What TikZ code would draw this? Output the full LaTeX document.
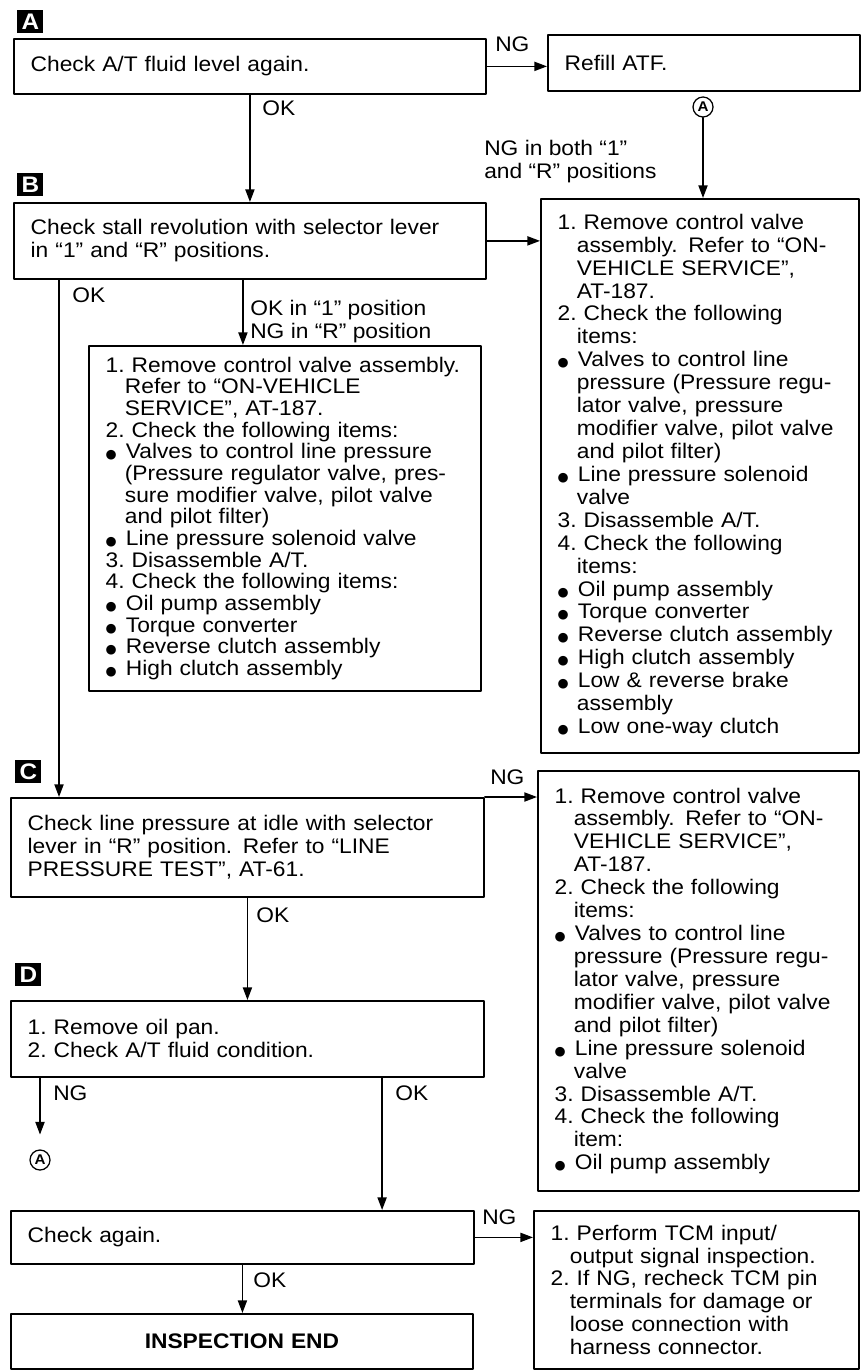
\documentclass[tikz,border=0pt]{standalone}
\usepackage{fontspec}
\setmainfont{Liberation Sans}[FakeStretch=1.08]
\newfontfamily\symfont{DejaVu Sans}
\usetikzlibrary{arrows.meta}

\newcommand{\boxfont}{\fontsize{15}{16.3}\selectfont}
\newcommand{\cont}{\\\hspace*{0.48cm}}
\newcommand{\blt}{{\symfont\fontsize{9}{0}\selectfont ●}\hspace{6.5pt}}

\begin{document}
\begin{tikzpicture}[x=0.025cm, y=-0.025cm, line cap=round, line join=round,
    box/.style={draw, line width=1.25pt, anchor=north west, align=left,
      inner xsep=0.42cm, inner ysep=0pt, font=\boxfont},
    tag/.style={fill=black, text=white, anchor=north west, inner sep=0pt,
      minimum width=0.65cm, minimum height=0.575cm,
      font=\bfseries\fontsize{16}{16}\selectfont},
    conn/.style={draw, circle, line width=0.9pt, inner sep=0pt,
      minimum size=0.5cm, font=\bfseries\fontsize{10}{10}\selectfont},
    lbl/.style={anchor=west, align=left, inner sep=0pt, font=\boxfont},
    arr/.style={-{Triangle[length=9pt,width=6.5pt]}, line width=1.1pt}]
  \useasboundingbox (0,0) rectangle (862,1372);

  % step A
  \node[tag] (tagA) at (17,10) {A};
  \node[box, text width=10.96cm, minimum height=1.375cm] (a1) at (13,38)
    {Check A/T fluid level again.};
  \node[box, text width=6.96cm, minimum height=1.4cm] (refill) at (547,34)
    {Refill ATF.};
  \node[conn] (ca1) at (703,107) {A};

  % step B
  \node[tag] (tagB) at (17,173) {B};
  \node[box, text width=10.96cm, minimum height=1.9cm] (b1) at (13,202)
    {Check stall revolution with selector lever\\in “1” and “R” positions.};
  \node[box, text width=7.11cm, minimum height=13.85cm] (r1) at (540,198)
    {1.~Remove control valve\cont assembly. Refer to “ON-\cont VEHICLE SERVICE”,\cont AT-187.\\
     2.~Check the following\cont items:\\
     \blt Valves to control line\cont pressure (Pressure regu-\cont lator valve, pressure\cont modifier valve, pilot valve\cont and pilot filter)\\
     \blt Line pressure solenoid\cont valve\\
     3.~Disassemble A/T.\\
     4.~Check the following\cont items:\\
     \blt Oil pump assembly\\
     \blt Torque converter\\
     \blt Reverse clutch assembly\\
     \blt High clutch assembly\\
     \blt Low \& reverse brake\cont assembly\\
     \blt Low one-way clutch};
  \node[box, text width=8.96cm, minimum height=8.625cm,
    font=\fontsize{15}{15.4}\selectfont] (b2) at (88,345)
    {1.~Remove control valve assembly.\cont Refer to “ON-VEHICLE\cont SERVICE”, AT-187.\\
     2.~Check the following items:\\
     \blt Valves to control line pressure\cont (Pressure regulator valve, pres-\cont sure modifier valve, pilot valve\cont and pilot filter)\\
     \blt Line pressure solenoid valve\\
     3.~Disassemble A/T.\\
     4.~Check the following items:\\
     \blt Oil pump assembly\\
     \blt Torque converter\\
     \blt Reverse clutch assembly\\
     \blt High clutch assembly};

  % step C
  \node[tag] (tagC) at (15,760) {C};
  \node[box, text width=10.985cm, minimum height=2.475cm] (c1) at (10,797)
    {Check line pressure at idle with selector\\lever in “R” position. Refer to “LINE\\PRESSURE TEST”, AT-61.};
  \node[box, text width=7.185cm, minimum height=10.5cm] (r2) at (537,770)
    {1.~Remove control valve\cont assembly. Refer to “ON-\cont VEHICLE SERVICE”,\cont AT-187.\\
     2.~Check the following\cont items:\\
     \blt Valves to control line\cont pressure (Pressure regu-\cont lator valve, pressure\cont modifier valve, pilot valve\cont and pilot filter)\\
     \blt Line pressure solenoid\cont valve\\
     3.~Disassemble A/T.\\
     4.~Check the following\cont item:\\
     \blt Oil pump assembly};

  % step D
  \node[tag] (tagD) at (15,963) {D};
  \node[box, text width=10.985cm, minimum height=1.9cm] (d1) at (10,1000)
    {1.~Remove oil pan.\\2.~Check A/T fluid condition.};
  \node[conn] (ca2) at (40,1160) {A};
  \node[box, text width=10.735cm, minimum height=1.325cm] (chk) at (10,1210)
    {Check again.};
  \node[box, text width=7.285cm, minimum height=3.95cm] (r3) at (533,1210)
    {1.~Perform TCM input/\cont output signal inspection.\\
     2.~If NG, recheck TCM pin\cont terminals for damage or\cont loose connection with\cont harness connector.};
  \node[box, text width=10.71cm, minimum height=1.375cm, align=center,
    font=\boxfont\bfseries] (fin) at (10,1313) {INSPECTION END};

  % connectors
  \draw[arr] (a1.east) -- (a1.east -| refill.west);
  \draw[arr] (a1.south) -- (b1.north);
  \draw[arr] (ca1.south) -- (ca1.south |- r1.north);
  \draw[arr] (b1.east) -- (b1.east -| r1.west);
  \draw[arr] ([xshift=1.15cm]b1.south west) -- ([xshift=1.15cm]b1.south west |- c1.north);
  \draw[arr] ([xshift=-0.175cm]b1.south) -- ([xshift=-0.175cm]b1.south |- b2.north);
  \draw[arr] (c1.north east) -- (c1.north east -| r2.west);
  \draw[arr] (c1.south) -- (c1.south |- d1.north);
  \draw[arr] (d1.south west -| ca2) -- ([yshift=0.37cm]ca2.north);
  \draw[arr] ([xshift=9.3cm]d1.south west) -- ([xshift=9.3cm]d1.south west |- chk.north);
  \draw[arr] (chk.east) -- (chk.east -| r3.west);
  \draw[arr] (chk.south) -- (chk.south |- fin.north);

  % labels
  \node[lbl] (ok1) at (262,108) {OK};
  \node[lbl] (ng1) at (495,44) {NG};
  \node[lbl] (ngboth) at (484,162) {NG in both “1”\\and “R” positions};
  \node[lbl] (ok2) at (72,295) {OK};
  \node[lbl] (okng) at (250,322) {OK in “1” position\\NG in “R” position};
  \node[lbl] (ng3) at (490,777) {NG};
  \node[lbl] (ok3) at (256,915) {OK};
  \node[lbl] (ng4) at (53,1093) {NG};
  \node[lbl] (ok4) at (395,1093) {OK};
  \node[lbl] (ng5) at (482,1217) {NG};
  \node[lbl] (ok5) at (253,1280) {OK};
\end{tikzpicture}
\end{document}
